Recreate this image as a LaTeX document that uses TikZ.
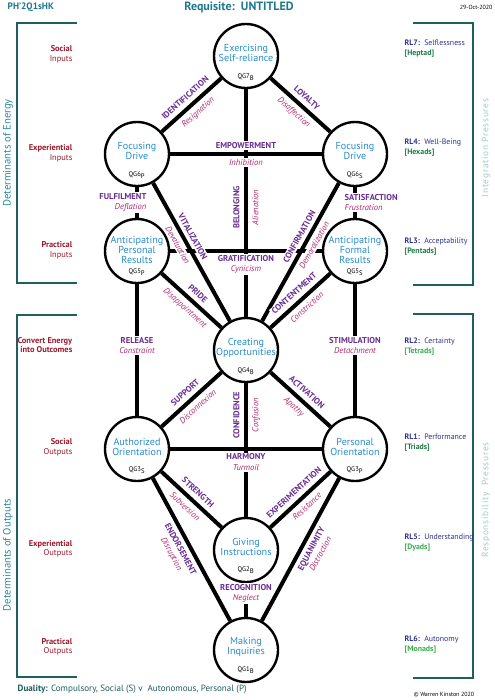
\documentclass[tikz,border=0pt]{standalone}
\usepackage{fontspec}
\setmainfont{PT Sans}
\newfontfamily\pressfont[LetterSpace=8]{PT Sans}
\definecolor{qblue}{RGB}{40,140,205}
\definecolor{labpurple}{RGB}{105,45,145}
\definecolor{labpink}{RGB}{180,40,110}
\definecolor{sidered}{RGB}{155,25,45}
\definecolor{rlblue}{RGB}{45,50,145}
\definecolor{rlgreen}{RGB}{30,125,70}
\definecolor{rllime}{RGB}{55,175,75}
\definecolor{bracketteal}{RGB}{30,95,95}
\definecolor{titleteal}{RGB}{30,120,140}
\definecolor{sideteal}{RGB}{40,140,160}
\definecolor{pressgrey}{RGB}{170,200,200}
\newcommand{\labfont}{\fontsize{6.4}{7.6}\selectfont}
\newcommand{\capword}[1]{{\bfseries\color{labpurple}#1}}
\newcommand{\subword}[1]{{\itshape\color{labpink}#1}}

\begin{document}
\begin{tikzpicture}[x=0.75pt,y=-0.75pt,
  qcirc/.style={circle, draw, line width=1.8pt, minimum size=48pt, inner sep=0pt},
  qtext/.style={align=center, text=qblue, font=\fontsize{7.6}{7.8}\selectfont},
  qgtext/.style={font=\fontsize{5}{5.5}\selectfont},
  link/.style={line width=3pt},
  capl/.style={font=\labfont\bfseries, text=labpurple, fill=white, inner sep=1pt},
  subl/.style={font=\labfont\itshape, text=labpink, fill=white, inner sep=1pt},
  pair/.style={font=\labfont, fill=white, inner sep=1pt, align=center},
  inlabel/.style={font=\fontsize{6.3}{7.2}\selectfont, text=sidered, align=right, anchor=east},
  rllabel/.style={font=\fontsize{5.9}{7.4}\selectfont, text=rlblue, align=left, anchor=west},
  bracket/.style={draw=bracketteal, line width=1.5pt},
  sidetitle/.style={font=\fontsize{8}{9}\selectfont, text=sideteal, rotate=90},
  presstitle/.style={font=\pressfont\fontsize{7}{8}\selectfont, text=pressgrey, rotate=90}
]
%set diagram to the page size
\fill[white] (0,0) rectangle (494,700);
\useasboundingbox (0,0) rectangle (494,700);

% Header
\node[anchor=west, font=\fontsize{7}{8}\selectfont\bfseries, text=titleteal] (code) at (3,7) {PH’2Q1sHK};
\node[font=\fontsize{9}{10}\selectfont\bfseries, text=titleteal] (title) at (239,7) {Requisite:\ \ UNTITLED};
\node[anchor=east, font=\fontsize{4.5}{5}\selectfont, inner sep=1pt] (date) at (494,7) {29-Oct-2020};

%Shape: Brackets
\draw[bracket] (77,23) -- (17,23) -- (17,283) -- (77,283);
\draw[bracket] (77,315) -- (17,315) -- (17,677) -- (77,677);
\draw[bracket] (413,23) -- (473,23) -- (473,285) -- (413,285);
\draw[bracket] (413,314) -- (473,314) -- (473,678) -- (413,678);

% Side titles
\node[sidetitle] (detEnergy) at (8,153) {Determinants of Energy};
\node[sidetitle] (detOutputs) at (8,555) {Determinants of Outputs};
\node[presstitle] (integPress) at (486,148) {Integration Pressures};
\node[presstitle] (respPress) at (486,500) {Responsibility\ \ Pressures};

%Shape: Circles
\node[qcirc] (Q7) at (246,56) {};
\node[qcirc] (Q6P) at (137,154) {};
\node[qcirc] (Q6S) at (355,154) {};
\node[qcirc] (Q5P) at (137,251) {};
\node[qcirc] (Q5S) at (355,251) {};
\node[qcirc] (Q4) at (246,350) {};
\node[qcirc] (Q3S) at (137,449) {};
\node[qcirc] (Q3P) at (355,449) {};
\node[qcirc] (Q2) at (246,550) {};
\node[qcirc] (Q1) at (246,650) {};

% Circle texts
\node[qtext] (t7) at (246,53) {Exercising\\Self-reliance};
\node[qtext] (t6P) at (137,151) {Focusing\\Drive};
\node[qtext] (t6S) at (355,151) {Focusing\\Drive};
\node[qtext] (t5P) at (137,250) {Anticipating\\Personal\\Results};
\node[qtext] (t5S) at (355,250) {Anticipating\\Formal\\Results};
\node[qtext] (t4) at (246,348) {Creating\\Opportunities};
\node[qtext] (t3S) at (137,447) {Authorized\\Orientation};
\node[qtext] (t3P) at (355,447) {Personal\\Orientation};
\node[qtext] (t2) at (246,547) {Giving\\Instructions};
\node[qtext] (t1) at (246,647) {Making\\Inquiries};

\node[qgtext] (g7) at (246,77) {QG7\textsubscript{B}};
\node[qgtext] (g6P) at (137,175) {QG6\textsubscript{P}};
\node[qgtext] (g6S) at (355,175) {QG6\textsubscript{S}};
\node[qgtext] (g5P) at (137,272) {QG5\textsubscript{P}};
\node[qgtext] (g5S) at (355,272) {QG5\textsubscript{S}};
\node[qgtext] (g4) at (246,371) {QG4\textsubscript{B}};
\node[qgtext] (g3S) at (137,470) {QG3\textsubscript{S}};
\node[qgtext] (g3P) at (355,470) {QG3\textsubscript{P}};
\node[qgtext] (g2) at (246,570) {QG2\textsubscript{B}};
\node[qgtext] (g1) at (246,670) {QG1\textsubscript{B}};

%Straight Lines: centre column
\draw[link] (Q4) -- (Q7) node[capl, pos=0.48, sloped, above=2.4pt] (lBelong) {BELONGING} node[subl, pos=0.48, sloped, below=2.2pt] (lAlien) {Alienation};
\draw[link] (Q2) -- (Q4) node[capl, pos=0.76, sloped, above=2.4pt] (lConfid) {CONFIDENCE} node[subl, pos=0.76, sloped, below=2.2pt] (lConfus) {Confusion};
\draw[link] (Q2) -- (Q1);
\node[pair] (lRecog) at (246,593.5) {\capword{RECOGNITION}\\\subword{Neglect}};

%Straight Lines: rows
\draw[link] (Q6P) -- (Q6S) node[capl, midway, above=1.6pt] (lEmpow) {EMPOWERMENT} node[subl, midway, below=1.6pt] (lInhib) {Inhibition};
\draw[link] (Q5P) -- (Q5S);
\node[pair] (lGratif) at (246,264.5) {\capword{GRATIFICATION}\\\subword{Cynicism}};
\draw[link] (Q3S) -- (Q3P);
\node[pair] (lHarmony) at (246,462) {\capword{HARMONY}\\\subword{Turmoil}};

%Straight Lines: side columns
\draw[link] (Q6P) -- (Q5P);
\node[pair, anchor=east, align=right] (lFulfil) at (148,202.5) {\capword{FULFILMENT}\\\subword{Deflation}};
\draw[link] (Q6S) -- (Q5S);
\node[pair, anchor=west, align=left] (lSatisf) at (343,202.5) {\capword{SATISFACTION}\\\subword{Frustration}};
\draw[link] (Q5P) -- (Q3S);
\node[pair] (lRelease) at (137,345.5) {\capword{RELEASE}\\\subword{Constraint}};
\draw[link] (Q5S) -- (Q3P);
\node[pair] (lStimul) at (355,345.5) {\capword{STIMULATION}\\\subword{Detachment}};

%Straight Lines: diagonals
\draw[link] (Q7) -- (Q6P) node[capl, midway, sloped, above=2.4pt] (lIdent) {IDENTIFICATION} node[subl, midway, sloped, below=2.2pt] (lResign) {Resignation};
\draw[link] (Q7) -- (Q6S) node[capl, midway, sloped, above=2.4pt] (lLoyal) {LOYALTY} node[subl, midway, sloped, below=2.2pt] (lDisaff) {Disaffection};
\draw[link] (Q6P) -- (Q4) node[capl, pos=0.42, sloped, above=1.6pt] (lVital) {VITALIZATION} node[subl, pos=0.42, sloped, below=1.6pt] (lDeval) {Devaluation};
\draw[link] (Q6S) -- (Q4) node[capl, pos=0.42, sloped, above=1.6pt] (lConfirm) {CONFIRMATION} node[subl, pos=0.42, sloped, below=1.6pt] (lDemoral) {Demoralization};
\draw[link] (Q5P) -- (Q4) node[capl, midway, sloped, above=2.4pt] (lPride) {PRIDE} node[subl, midway, sloped, below=2.2pt] (lDisapp) {Disappointment};
\draw[link] (Q5S) -- (Q4) node[capl, midway, sloped, above=2.4pt] (lContent) {CONTENTMENT} node[subl, midway, sloped, below=2.2pt] (lConstr) {Constriction};
\draw[link] (Q4) -- (Q3S) node[capl, midway, sloped, above=2.4pt] (lSupport) {SUPPORT} node[subl, midway, sloped, below=2.2pt] (lDiscon) {Disconnexion};
\draw[link] (Q4) -- (Q3P) node[capl, midway, sloped, above=2.4pt] (lActiv) {ACTIVATION} node[subl, midway, sloped, below=2.2pt] (lApathy) {Apathy};
\draw[link] (Q3S) -- (Q2) node[capl, midway, sloped, above=2.4pt] (lStrength) {STRENGTH} node[subl, midway, sloped, below=2.2pt] (lSubver) {Subversion};
\draw[link] (Q3P) -- (Q2) node[capl, midway, sloped, above=2.4pt] (lExper) {EXPERIMENTATION} node[subl, midway, sloped, below=2.2pt] (lResist) {Resistance};
\draw[link] (Q3S) -- (Q1) node[pair, pos=0.465, sloped, below=2pt] (lEndors) {\capword{ENDORSEMENT}\\\subword{Disruption}};
\draw[link] (Q3P) -- (Q1) node[pair, pos=0.465, sloped, below=2pt] (lEquan) {\capword{EQUANIMITY}\\\subword{Distraction}};

% Left text nodes
\node[inlabel] (inSocial) at (77,54.5) {\textbf{Social}\\Inputs};
\node[inlabel] (inExper) at (77,153.5) {\textbf{Experiential}\\Inputs};
\node[inlabel] (inPract) at (77,250.5) {\textbf{Practical}\\Inputs};
\node[inlabel] (convEnergy) at (77,345) {\textbf{Convert Energy}\\\textbf{into Outcomes}};
\node[inlabel] (outSocial) at (77,447.5) {\textbf{Social}\\Outputs};
\node[inlabel] (outExper) at (77,549) {\textbf{Experiential}\\Outputs};
\node[inlabel] (outPract) at (77,647) {\textbf{Practical}\\Outputs};

% Right text nodes
\node[rllabel] (rl7) at (400,49) {\textbf{RL7:}\ \ Selflessness\\\textcolor{rlgreen}{\textbf{[Heptad]}}};
\node[rllabel] (rl4) at (400,148) {\textbf{RL4:}\ \ Well-Being\\\textcolor{rlgreen}{\textbf{[Hexads]}}};
\node[rllabel] (rl3) at (400,247) {\textbf{RL3:}\ \ Acceptability\\\textcolor{rlgreen}{\textbf{[Pentads]}}};
\node[rllabel] (rl2) at (400,346.5) {\textbf{RL2:}\ \ Certainty\\\textcolor{rllime}{\textbf{[Tetrads]}}};
\node[rllabel] (rl1) at (400,443) {\textbf{RL1:}\ \ Performance\\\textcolor{rlgreen}{\textbf{[Triads]}}};
\node[rllabel] (rl5) at (400,543) {\textbf{RL5:}\ \ Understanding\\\textcolor{rllime}{\textbf{[Dyads]}}};
\node[rllabel] (rl6) at (400,645) {\textbf{RL6:}\ \ Autonomy\\\textcolor{rllime}{\textbf{[Monads]}}};

% Footer
\node[anchor=west, font=\fontsize{6.8}{7.5}\selectfont, text=bracketteal] (duality) at (13,689) {\textbf{Duality:} Compulsory, Social (S) v\ \ Autonomous, Personal (P)};
\node[font=\fontsize{4.5}{5}\selectfont] (copyr) at (444,695) {© Warren Kinston 2020};

\end{tikzpicture}
\end{document}
